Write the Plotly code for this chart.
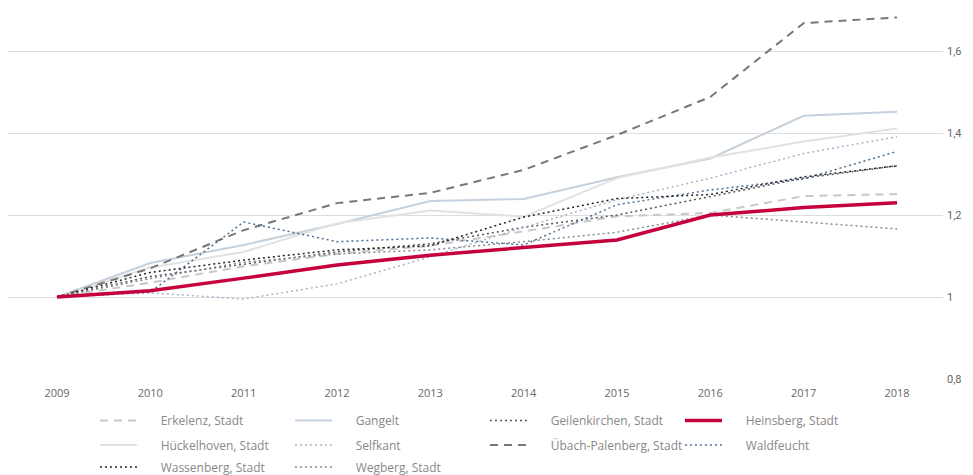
import plotly.graph_objects as go

years = [2009, 2010, 2011, 2012, 2013, 2014, 2015, 2016, 2017, 2018]

erkelenz = [1.0, 1.035, 1.075, 1.105, 1.125, 1.16, 1.197, 1.205, 1.246, 1.251]
gangelt = [1.0, 1.083, 1.127, 1.178, 1.234, 1.239, 1.292, 1.338, 1.442, 1.452]
geilenkirchen = [1.0, 1.05, 1.08, 1.11, 1.13, 1.17, 1.2, 1.245, 1.29, 1.32]
heinsberg = [1.0, 1.015, 1.046, 1.078, 1.102, 1.12, 1.139, 1.2, 1.218, 1.23]
hueckelhoven = [1.0, 1.072, 1.11, 1.18, 1.211, 1.196, 1.29, 1.34, 1.379, 1.411]
selfkant = [1.0, 1.01, 0.995, 1.032, 1.098, 1.17, 1.237, 1.29, 1.35, 1.391]
uebach = [1.0, 1.07, 1.163, 1.229, 1.254, 1.31, 1.395, 1.488, 1.668, 1.682]
waldfeucht = [1.0, 1.012, 1.183, 1.135, 1.144, 1.127, 1.225, 1.261, 1.288, 1.355]
wassenberg = [1.0, 1.06, 1.09, 1.115, 1.125, 1.195, 1.24, 1.25, 1.293, 1.32]
wegberg = [1.0, 1.045, 1.085, 1.105, 1.115, 1.135, 1.158, 1.2, 1.183, 1.166]

y_ticks = [0.8, 1.0, 1.2, 1.4, 1.6]
y_tick_labels = ["0,8", "1", "1,2", "1,4", "1,6"]

# name, values, colour, dash, width, legend row
series = [
    ("Erkelenz, Stadt", erkelenz, "#c8c8c8", "8px,6px", 2, "legend"),
    ("Gangelt", gangelt, "#c5d1dd", "solid", 2, "legend"),
    ("Geilenkirchen, Stadt", geilenkirchen, "#555555", "2px,3px", 1.5, "legend"),
    ("Heinsberg, Stadt", heinsberg, "#c6003c", "solid", 3.5, "legend"),
    ("Hückelhoven, Stadt", hueckelhoven, "#e2e2e2", "solid", 2, "legend2"),
    ("Selfkant", selfkant, "#a6b6ca", "2px,3px", 1.5, "legend2"),
    ("Übach-Palenberg, Stadt", uebach, "#777777", "8px,6px", 2, "legend2"),
    ("Waldfeucht", waldfeucht, "#4d6f96", "2px,3px", 1.5, "legend2"),
    ("Wassenberg, Stadt", wassenberg, "#222222", "2px,3px", 1.5, "legend3"),
    ("Wegberg, Stadt", wegberg, "#8a8a8a", "2px,3px", 1.5, "legend3"),
]

PAD = "\u00a0" * 6

fig = go.Figure()
order = [0, 1, 2, 4, 5, 6, 7, 8, 9, 3]  # Heinsberg drawn last (on top)
for i in order:
    name, vals, color, dash, width, leg = series[i]
    fig.add_trace(go.Scatter(
        x=years, y=vals, mode="lines", name=PAD + name,
        line=dict(color=color, dash=dash, width=width),
        legend=leg, legendrank=i + 1,
        hoverinfo="skip",
    ))

def leg(y):
    return dict(
        orientation="h", x=0.093, xanchor="left", y=y, yanchor="top",
        entrywidth=143, entrywidthmode="pixels",
        itemwidth=37, traceorder="normal",
        font=dict(family="Open Sans, sans-serif", size=12, color="#888888"),
        bgcolor="rgba(0,0,0,0)",
    )

fig.update_layout(
    width=957, height=467,
    margin=dict(l=0, r=22, t=2, b=96, autoexpand=False),
    plot_bgcolor="white", paper_bgcolor="white",
    separators=",.",
    font=dict(family="Open Sans, sans-serif", size=11, color="#777777"),
    showlegend=True,
    legend=leg(-0.0732),
    legend2=leg(-0.1395),
    legend3=leg(-0.1990),
    xaxis=dict(
        range=[2009 - 0.525, 2018 + 0.493],
        tickvals=years, ticktext=[str(y) for y in years],
        showgrid=False, zeroline=False, showline=False,
        ticklabelstandoff=6, automargin=False,
        tickfont=dict(size=11, color="#666666"),
    ),
    yaxis=dict(
        side="right", range=[0.8, 1.7],
        tickvals=y_ticks, ticktext=y_tick_labels,
        showgrid=True, gridcolor="#dedede", gridwidth=1,
        zeroline=False, showline=False,
        ticklabelstandoff=3, automargin=False,
        tickfont=dict(family="Roboto, sans-serif", size=11, color="#666666"),
    ),
)

fig.write_html("out.html")
